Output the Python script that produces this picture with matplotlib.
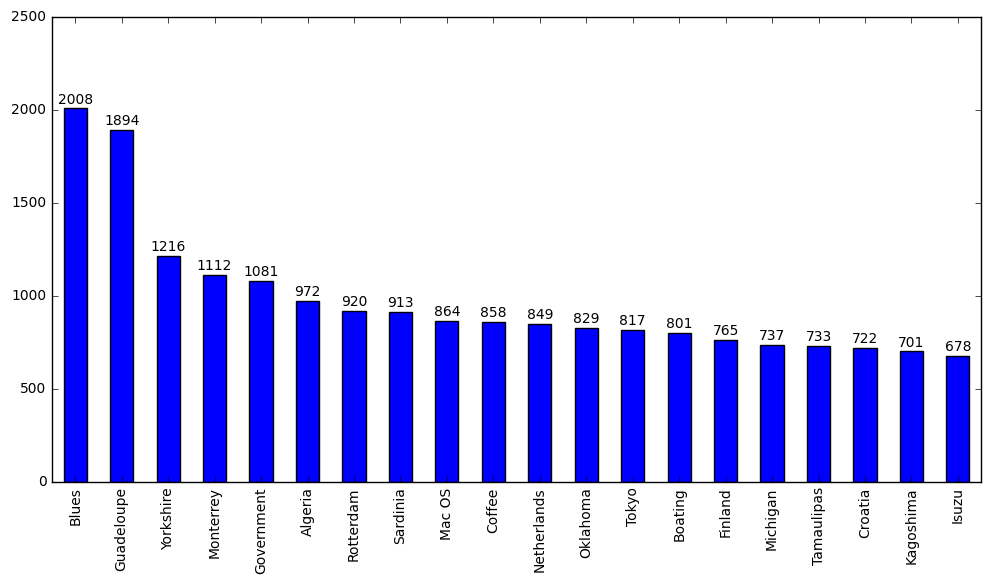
import matplotlib
matplotlib.use("Agg")
import matplotlib.pyplot as plt

plt.style.use("classic")

categories = ["Blues", "Guadeloupe", "Yorkshire", "Monterrey", "Government",
              "Algeria", "Rotterdam", "Sardinia", "Mac OS", "Coffee",
              "Netherlands", "Oklahoma", "Tokyo", "Boating", "Finland",
              "Michigan", "Tamaulipas", "Croatia", "Kagoshima", "Isuzu"]
counts = [2008, 1894, 1216, 1112, 1081, 972, 920, 913, 864, 858,
          849, 829, 817, 801, 765, 737, 733, 722, 701, 678]

fig = plt.figure(figsize=(9.91, 5.84), dpi=100, facecolor="white")
ax = fig.add_axes([0.0525, 0.175, 0.9375, 0.796])

x = list(range(len(categories)))
bars = ax.bar(x, counts, width=0.5, color="blue", edgecolor="black", align="center")
for b, v in zip(bars, counts):
    ax.text(b.get_x() + b.get_width() / 2, v + 10, str(v),
            ha="center", va="bottom", fontsize=10)

ax.set_xlim(-0.5, len(categories) - 0.5)
ax.set_ylim(0, 2500)
ax.set_xticks(x)
ax.set_xticklabels(categories, rotation=90, fontsize=10)
ax.tick_params(axis="y", labelsize=10)

fig.savefig("out.png", dpi=100, facecolor="white")
plt.close(fig)
